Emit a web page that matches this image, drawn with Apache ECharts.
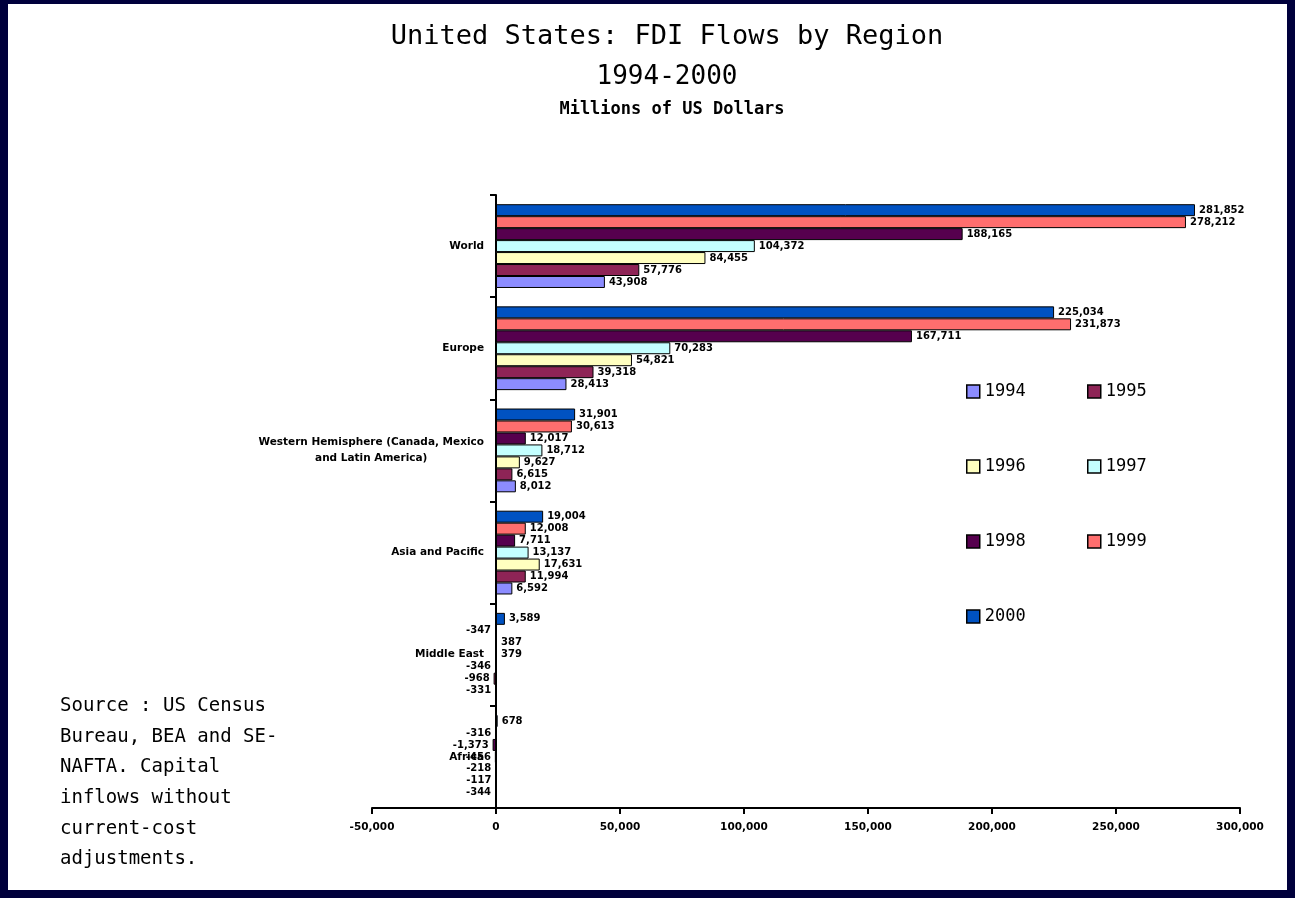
<!DOCTYPE html>
<html>
<head>
<meta charset="utf-8">
<script src="https://cdn.jsdelivr.net/npm/echarts@6/dist/echarts.min.js"></script>
<style>
  html, body { margin: 0; padding: 0; background: #00003c; }
  #chart { width: 1295px; height: 898px; }
</style>
</head>
<body>
<div id="chart"></div>
<script>
// US FDI inflows by source region, millions of US dollars
const regions = ['World', 'Europe', 'Western Hemisphere (Canada, Mexico and Latin America)', 'Asia and Pacific', 'Middle East', 'Africa'];
const years = ['1994', '1995', '1996', '1997', '1998', '1999', '2000'];

const v1994 = [43908, 28413, 8012, 6592, -331, -344];
const v1995 = [57776, 39318, 6615, 11994, -968, -117];
const v1996 = [84455, 54821, 9627, 17631, -346, -218];
const v1997 = [104372, 70283, 18712, 13137, 379, -456];
const v1998 = [188165, 167711, 12017, 7711, 387, -1373];
const v1999 = [278212, 231873, 30613, 12008, -347, -316];
const v2000 = [281852, 225034, 31901, 19004, 3589, 678];

const xTicks = { min: -50000, max: 300000, step: 50000 };

const seriesValues = [v1994, v1995, v1996, v1997, v1998, v1999, v2000];
const colors = ['#8c8cff', '#8e2456', '#ffffc0', '#c4ffff', '#56004e', '#ff6e6e', '#0052c2'];

const fmt = v => v.toLocaleString('en-US');

// wrap long region names onto centred lines
function wrapLabel(name) {
  const words = name.split(' ');
  const lines = [];
  let cur = '';
  words.forEach(w => {
    const t = cur ? cur + ' ' + w : w;
    if (t.length > 35 && cur) { lines.push(cur); cur = w; } else { cur = t; }
  });
  if (cur) lines.push(cur);
  return lines.map(l => '{c|' + l + '}').join('\n');
}

// latest year first so it sits at the top of each group
const order = [6, 5, 4, 3, 2, 1, 0];
const series = order.map(i => ({
  name: years[i],
  type: 'bar',
  barGap: '0%',
  barCategoryGap: '18%',
  itemStyle: { color: colors[i], borderColor: '#000', borderWidth: 1 },
  label: {
    show: true,
    distance: 4,
    color: '#000',
    fontFamily: 'DejaVu Sans',
    fontWeight: 'bold',
    fontSize: 10,
    formatter: p => fmt(p.value)
  },
  data: seriesValues[i].map(v => ({ value: v, label: { position: v < 0 ? 'left' : 'right' } }))
}));

const legendBase = {
  orient: 'vertical', top: 378, icon: 'rect',
  itemWidth: 13, itemHeight: 13, itemGap: 58,
  itemStyle: { borderColor: '#000', borderWidth: 1.5 },
  textStyle: { fontFamily: 'DejaVu Sans Mono', fontSize: 17, color: '#000', padding: [0, 0, 8, 0] }
};

const chart = echarts.init(document.getElementById('chart'));
chart.setOption({
  backgroundColor: '#00003c',
  animation: false,
  title: [
    { text: 'United States: FDI Flows by Region', left: 662, top: 18, textAlign: 'center',
      textStyle: { fontFamily: 'DejaVu Sans Mono', fontWeight: 'normal', fontSize: 27, color: '#000' } },
    { text: '1994-2000', left: 662, top: 59, textAlign: 'center',
      textStyle: { fontFamily: 'DejaVu Sans Mono', fontWeight: 'normal', fontSize: 26, color: '#000' } },
    { text: 'Millions of US Dollars', left: 667, top: 96, textAlign: 'center',
      textStyle: { fontFamily: 'DejaVu Sans Mono', fontWeight: 'bold', fontSize: 17, color: '#000' } }
  ],
  graphic: [
    { type: 'rect', z: -10, silent: true, shape: { x: 8, y: 4, width: 1279, height: 886 }, style: { fill: '#ffffff' } },
    { type: 'text', left: 60, top: 691, z: 10,
      style: {
        text: 'Source : US Census\nBureau, BEA and SE-\nNAFTA. Capital\ninflows without\ncurrent-cost\nadjustments.',
        font: '19px "DejaVu Sans Mono"', fill: '#000', lineHeight: 30.6
      } }
  ],
  legend: [
    Object.assign({ data: ['1994', '1996', '1998', '2000'], left: 961 }, legendBase),
    Object.assign({ data: ['1995', '1997', '1999'], left: 1082 }, legendBase)
  ],
  grid: { left: 372, right: 55, top: 195, bottom: 90, containLabel: false },
  xAxis: {
    type: 'value',
    min: xTicks.min, max: xTicks.max, interval: xTicks.step,
    splitLine: { show: false },
    axisLine: { show: true, onZero: false, lineStyle: { color: '#000', width: 2 } },
    axisTick: { show: true, length: 6, lineStyle: { color: '#000', width: 2 } },
    axisLabel: { color: '#000', fontFamily: 'DejaVu Sans', fontWeight: 'bold', fontSize: 10.5, margin: 14,
      formatter: v => fmt(v) }
  },
  yAxis: {
    type: 'category',
    data: regions,
    inverse: true,
    axisLine: { show: true, onZero: true, lineStyle: { color: '#000', width: 2 } },
    axisTick: { show: true, length: 6, lineStyle: { color: '#000', width: 2 } },
    axisLabel: {
      color: '#000', margin: -112,
      formatter: wrapLabel,
      rich: { c: { align: 'center', fontFamily: 'DejaVu Sans', fontWeight: 'bold', fontSize: 10.5, color: '#000', lineHeight: 16 } }
    }
  },
  series: series
});
</script>
</body>
</html>
